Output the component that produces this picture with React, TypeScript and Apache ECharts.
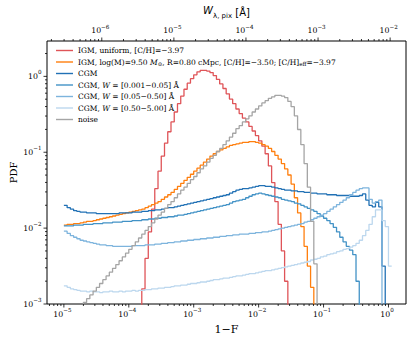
import React, { useEffect, useRef } from 'react';
import * as echarts from 'echarts';

// histogram bin width (dex in 1-F); each series lists log10(PDF) per bin, starting at its first edge
const BIN_DEX = 0.05;

const redName = 'IGM, uniform, [C/H]=−3.97';
const orangeName = 'IGM, log(M)=9.50 M⊙, R=0.80 cMpc, [C/H]=−3.50; [C/H]eff=−3.97';
const cgmName = 'CGM';
const w1Name = 'CGM, W = [0.001−0.05] Å';
const w2Name = 'CGM, W = [0.05−0.50] Å';
const w3Name = 'CGM, W = [0.50−5.00] Å';
const noiseName = 'noise';

const redFirstEdge = -3.8;
const redLogPdf = [-2.80, -2.40, -2.05, -1.75, -1.48, -1.25, -1.05, -0.88, -0.73, -0.60, -0.47, -0.36, -0.26, -0.17, -0.09, -0.03, 0.02, 0.06, 0.08, 0.08, 0.07, 0.05, 0.01, -0.04, -0.10, -0.16, -0.23, -0.30, -0.36, -0.43, -0.49, -0.55, -0.60, -0.66, -0.72, -0.78, -0.85, -0.92, -1.02, -1.18, -1.40, -1.65, -1.95, -2.30, -2.70];

const orangeFirstEdge = -5.0;
const orangeLogPdf = [-1.96, -1.95, -1.95, -1.94, -1.94, -1.93, -1.92, -1.91, -1.91, -1.90,
  -1.89, -1.88, -1.87, -1.86, -1.85, -1.84, -1.83, -1.82, -1.81, -1.80,
  -1.79, -1.78, -1.77, -1.76, -1.75, -1.73, -1.71, -1.69, -1.67, -1.65,
  -1.62, -1.59, -1.56, -1.53, -1.49, -1.45, -1.41, -1.37, -1.33, -1.29,
  -1.25, -1.21, -1.17, -1.13, -1.09, -1.05, -1.02, -0.99, -0.97, -0.95,
  -0.93, -0.91, -0.90, -0.89, -0.88, -0.87, -0.87, -0.86, -0.86, -0.87,
  -0.88, -0.90, -0.92, -0.95, -0.99, -1.04, -1.09, -1.15, -1.22, -1.30,
  -1.42, -1.60, -1.80, -1.98, -2.24, -2.50, -2.78];

const cgmFirstEdge = -5.0;
const cgmLogPdf = [-1.70, -1.73, -1.75, -1.77, -1.78, -1.79, -1.79, -1.80, -1.80, -1.80,
  -1.81, -1.81, -1.81, -1.81, -1.81, -1.81, -1.81, -1.80, -1.80, -1.80,
  -1.80, -1.79, -1.79, -1.79, -1.78, -1.78, -1.77, -1.77, -1.76, -1.76,
  -1.75, -1.74, -1.73, -1.73, -1.72, -1.71, -1.70, -1.69, -1.68, -1.67,
  -1.66, -1.65, -1.64, -1.63, -1.62, -1.61, -1.60, -1.59, -1.58, -1.57,
  -1.56, -1.54, -1.52, -1.50, -1.49, -1.48, -1.48, -1.47, -1.46, -1.45,
  -1.44, -1.44, -1.45, -1.45, -1.46, -1.47, -1.48, -1.49, -1.50, -1.50,
  -1.51, -1.51, -1.52, -1.52, -1.53, -1.53, -1.54, -1.54, -1.55, -1.55,
  -1.55, -1.56, -1.56, -1.56, -1.57, -1.57, -1.57, -1.57, -1.58, -1.58,
  -1.58, -1.57, -1.55, -1.63, -1.70, -1.72, -1.66, -1.72, -2.50];

const w1FirstEdge = -5.0;
const w1LogPdf = [-1.97, -1.97, -1.97, -1.96, -1.96, -1.96, -1.95, -1.95, -1.95, -1.94,
  -1.94, -1.94, -1.93, -1.93, -1.93, -1.92, -1.92, -1.92, -1.91, -1.91,
  -1.91, -1.90, -1.90, -1.90, -1.89, -1.89, -1.88, -1.88, -1.87, -1.87,
  -1.86, -1.86, -1.85, -1.85, -1.84, -1.83, -1.83, -1.82, -1.81, -1.80,
  -1.79, -1.78, -1.77, -1.76, -1.75, -1.74, -1.73, -1.72, -1.71, -1.70,
  -1.69, -1.67, -1.65, -1.64, -1.63, -1.62, -1.60, -1.58, -1.56, -1.55,
  -1.54, -1.55, -1.56, -1.57, -1.58, -1.59, -1.60, -1.62, -1.63, -1.64,
  -1.65, -1.67, -1.68, -1.70, -1.72, -1.74, -1.76, -1.78, -1.81, -1.84,
  -1.87, -1.90, -1.94, -1.99, -2.05, -2.12, -2.18, -2.24, -2.29, -2.35,
  -2.70];

const w2FirstEdge = -5.0;
const w2LogPdf = [-2.04, -2.07, -2.10, -2.12, -2.14, -2.16, -2.17, -2.18, -2.19, -2.20,
  -2.21, -2.22, -2.22, -2.23, -2.23, -2.24, -2.24, -2.24, -2.24, -2.24,
  -2.24, -2.23, -2.23, -2.23, -2.23, -2.22, -2.22, -2.22, -2.21, -2.21,
  -2.20, -2.20, -2.19, -2.19, -2.18, -2.18, -2.17, -2.17, -2.16, -2.16,
  -2.15, -2.15, -2.14, -2.14, -2.13, -2.13, -2.12, -2.12, -2.11, -2.11,
  -2.10, -2.10, -2.09, -2.09, -2.08, -2.08, -2.08, -2.07, -2.07, -2.06,
  -2.06, -2.05, -2.05, -2.04, -2.03, -2.02, -2.01, -2.00, -1.99, -1.98,
  -1.97, -1.96, -1.95, -1.94, -1.92, -1.91, -1.89, -1.87, -1.85, -1.83,
  -1.81, -1.78, -1.75, -1.72, -1.69, -1.66, -1.63, -1.60, -1.56, -1.53,
  -1.50, -1.48, -1.47, -1.47, -1.62, -1.67, -1.65, -1.63];

const w3FirstEdge = -5.0;
const w3LogPdf = [-2.76, -2.78, -2.80, -2.81, -2.82, -2.83, -2.83, -2.84, -2.83, -2.84,
  -2.84, -2.85, -2.84, -2.84, -2.83, -2.84, -2.84, -2.83, -2.84, -2.83,
  -2.83, -2.82, -2.83, -2.82, -2.82, -2.81, -2.81, -2.80, -2.80, -2.79,
  -2.79, -2.78, -2.78, -2.77, -2.76, -2.76, -2.75, -2.75, -2.74, -2.73,
  -2.73, -2.72, -2.71, -2.71, -2.70, -2.69, -2.68, -2.68, -2.67, -2.66,
  -2.66, -2.65, -2.64, -2.63, -2.63, -2.62, -2.61, -2.60, -2.60, -2.59,
  -2.58, -2.57, -2.56, -2.56, -2.55, -2.54, -2.53, -2.52, -2.51, -2.50,
  -2.49, -2.48, -2.47, -2.46, -2.45, -2.44, -2.42, -2.41, -2.40, -2.38,
  -2.37, -2.35, -2.34, -2.33, -2.31, -2.30, -2.28, -2.27, -2.25, -2.23,
  -2.20, -2.16, -2.10, -2.03, -1.95, -1.85, -1.76, -1.76, -1.90, -1.98, -2.50];

const noiseFirstEdge = -4.7;
const noiseLogPdf = [-2.98, -2.93, -2.88, -2.83, -2.78, -2.73, -2.68, -2.63, -2.58, -2.53,
  -2.48, -2.43, -2.38, -2.33, -2.28, -2.23, -2.18, -2.13, -2.08, -2.03,
  -1.98, -1.93, -1.88, -1.83, -1.79, -1.74, -1.69, -1.65, -1.60, -1.55,
  -1.50, -1.46, -1.41, -1.36, -1.32, -1.27, -1.22, -1.18, -1.13, -1.08,
  -1.04, -0.99, -0.95, -0.90, -0.85, -0.80, -0.75, -0.69, -0.65, -0.60,
  -0.56, -0.52, -0.47, -0.43, -0.39, -0.35, -0.32, -0.29, -0.27, -0.25,
  -0.25, -0.26, -0.28, -0.33, -0.40, -0.52, -0.70, -0.90, -1.15, -1.46,
  -1.91, -2.47];

// axis limits (log10)
const xLogMin = -5.26, xLogMax = 0.27;
const topLogMin = -6.76, topLogMax = -1.78;
const yLogMin = -3, yLogMax = 0.466;

const FONT_SERIF = 'DejaVu Serif';
const FONT_SANS = 'DejaVu Sans';
const TICK_BASE_SIZE = 7.8;
const TICK_EXP_SIZE = 5.6;

let measureCtx: CanvasRenderingContext2D | null = null;
function textWidth(t: string, size: number, family: string) {
  if (!measureCtx) measureCtx = document.createElement('canvas').getContext('2d');
  if (!measureCtx) return t.length * size * 0.6;
  measureCtx.font = `${size}px "${family}"`;
  return measureCtx.measureText(t).width;
}

function histData(firstEdge: number, logPdf: number[], dropStart: boolean, dropEnd: boolean) {
  const FLOOR = 1e-7;
  const edge = (i: number) => Math.pow(10, firstEdge + i * BIN_DEX);
  const pts: number[][] = [];
  if (dropStart) pts.push([edge(0), FLOOR]);
  logPdf.forEach((v, i) => pts.push([edge(i), Math.pow(10, v)]));
  const last = logPdf[logPdf.length - 1];
  pts.push([edge(logPdf.length), dropEnd ? FLOOR : Math.pow(10, last)]);
  return pts;
}

function logTicks(lo: number, hi: number) {
  const out: number[][] = [];
  for (let n = Math.floor(lo); n <= Math.ceil(hi); n++) {
    for (let k = 1; k <= 9; k++) {
      const v = k * Math.pow(10, n);
      const l = Math.log10(v);
      if (l >= lo - 1e-9 && l <= hi + 1e-9) out.push([v, k === 1 ? 1 : 0]);
    }
  }
  return out;
}

type Side = 'bottom' | 'top' | 'left';

export default function App() {
  const ref = useRef<HTMLDivElement>(null);
  useEffect(() => {
    if (!ref.current) return;
    const chart = echarts.init(ref.current, undefined, { renderer: 'svg' });
    const lineSeries = (name: string, color: string, data: number[][], z: number) => ({
      name,
      type: 'line',
      step: 'end',
      data,
      symbol: 'none',
      showSymbol: false,
      clip: true,
      z,
      lineStyle: { color, width: 1.3 },
      itemStyle: { color },
      xAxisIndex: 0,
      yAxisIndex: 0,
    });
    const tickSeries = (axis: Side, data: number[][]) => ({
      type: 'custom',
      xAxisIndex: axis === 'top' ? 1 : 0,
      yAxisIndex: 0,
      clip: false,
      silent: true,
      z: 20,
      encode: axis === 'left' ? { x: 2, y: 0 } : { x: 0, y: 2 },
      data: data.map((d) => [d[0], d[1], 0.01]),
      renderItem: (params: any, api: any) => {
        const cs = params.coordSys;
        const v = api.value(0);
        const major = api.value(1) === 1;
        const len = major ? 3.5 : 2;
        const style = { stroke: '#000', lineWidth: 0.8 };
        if (axis === 'left') {
          const py = api.coord([0.01, v])[1];
          return { type: 'line', shape: { x1: cs.x, y1: py, x2: cs.x - len, y2: py }, style };
        }
        const px = api.coord([v, 0.01])[0];
        const y0 = axis === 'bottom' ? cs.y + cs.height : cs.y;
        const y1 = axis === 'bottom' ? y0 + len : y0 - len;
        return { type: 'line', shape: { x1: px, y1: y0, x2: px, y2: y1 }, style };
      },
    });
    const labelSeries = (axis: Side, data: number[][]) => ({
      type: 'custom',
      xAxisIndex: axis === 'top' ? 1 : 0,
      yAxisIndex: 0,
      clip: false,
      silent: true,
      z: 20,
      encode: axis === 'left' ? { x: 2, y: 0 } : { x: 0, y: 2 },
      data: data.filter((d) => d[1] === 1).map((d) => [d[0], 1, 0.01]),
      renderItem: (params: any, api: any) => {
        const cs = params.coordSys;
        const v = api.value(0);
        const e = Math.round(Math.log10(v));
        const base = '10';
        const exp = e < 0 ? '−' + -e : String(e);
        const wb = textWidth(base, TICK_BASE_SIZE, FONT_SERIF);
        const we = textWidth(exp, TICK_EXP_SIZE, FONT_SERIF);
        let x0: number;
        let yMid: number;
        if (axis === 'left') {
          const py = api.coord([0.01, v])[1];
          x0 = cs.x - 5.5 - wb - we;
          yMid = py;
        } else {
          const px = api.coord([v, 0.01])[0];
          x0 = px - (wb + we) / 2 - 1.5;
          yMid = axis === 'bottom' ? cs.y + cs.height + 10 : cs.y - 10.5;
        }
        const font = { fontFamily: FONT_SERIF, fill: '#000', align: 'left', verticalAlign: 'middle' };
        return {
          type: 'group',
          children: [
            { type: 'text', x: x0, y: yMid, style: { ...font, text: base, fontSize: TICK_BASE_SIZE } },
            { type: 'text', x: x0 + wb, y: yMid - 4, style: { ...font, text: exp, fontSize: TICK_EXP_SIZE } },
          ],
        };
      },
    });

    const legendRich: Record<string, string> = {
      [redName]: 'IGM, uniform, [C/H]=−3.97',
      [orangeName]: 'IGM, log(M)=9.50 {i|M}{sub|⊙}, R=0.80 cMpc, [C/H]=−3.50; [C/H]{sub|eff}=−3.97',
      [cgmName]: 'CGM',
      [w1Name]: 'CGM, {i|W} = [0.001−0.05] Å',
      [w2Name]: 'CGM, {i|W} = [0.05−0.50] Å',
      [w3Name]: 'CGM, {i|W} = [0.50−5.00] Å',
      [noiseName]: 'noise',
    };

    const hiddenAxisParts = {
      axisLine: { show: false },
      axisTick: { show: false },
      axisLabel: { show: false },
      splitLine: { show: false },
      minorTick: { show: false },
    };

    const bottomTicks = logTicks(xLogMin, xLogMax);
    const topTicks = logTicks(topLogMin, topLogMax);
    const leftTicks = logTicks(yLogMin, yLogMax);

    chart.setOption({
      animation: false,
      backgroundColor: '#fff',
      grid: { left: 45, right: 9, top: 38, bottom: 34.5, show: true, borderColor: '#000', borderWidth: 1, backgroundColor: 'transparent' },
      legend: {
        data: [redName, orangeName, cgmName, w1Name, w2Name, w3Name, noiseName],
        orient: 'vertical',
        left: 51,
        top: 40.5,
        icon: 'rect',
        itemWidth: 17,
        itemHeight: 1.4,
        itemGap: 1.5,
        selectedMode: false,
        formatter: (name: string) => legendRich[name] || name,
        textStyle: {
          fontFamily: FONT_SERIF,
          fontSize: 7.5,
          color: '#000',
          lineHeight: 10,
          rich: {
            i: { fontFamily: FONT_SERIF, fontStyle: 'italic', fontSize: 7.5, lineHeight: 10, color: '#000' },
            sub: { fontFamily: FONT_SERIF, fontSize: 5.5, lineHeight: 6, verticalAlign: 'bottom', color: '#000' },
          },
        },
      },
      xAxis: [
        {
          type: 'log',
          logBase: 10,
          min: Math.pow(10, xLogMin),
          max: Math.pow(10, xLogMax),
          position: 'bottom',
          ...hiddenAxisParts,
          name: '1−F',
          nameLocation: 'middle',
          nameGap: 20,
          nameTextStyle: { fontFamily: FONT_SERIF, fontSize: 11, color: '#000' },
        },
        {
          type: 'log',
          logBase: 10,
          min: Math.pow(10, topLogMin),
          max: Math.pow(10, topLogMax),
          position: 'top',
          ...hiddenAxisParts,
          name: '{w|W}{sub|λ, pix} [Å]',
          nameLocation: 'middle',
          nameGap: 22,
          nameTextStyle: {
            fontFamily: FONT_SANS,
            fontSize: 10,
            color: '#000',
            rich: {
              w: { fontFamily: FONT_SANS, fontStyle: 'italic', fontSize: 10, lineHeight: 14, verticalAlign: 'top', color: '#000' },
              sub: { fontFamily: FONT_SANS, fontSize: 7, lineHeight: 8, verticalAlign: 'bottom', color: '#000' },
            },
          },
        },
      ],
      yAxis: [
        {
          type: 'log',
          logBase: 10,
          min: Math.pow(10, yLogMin),
          max: Math.pow(10, yLogMax),
          ...hiddenAxisParts,
          name: 'PDF',
          nameLocation: 'middle',
          nameRotate: 90,
          nameGap: 29,
          nameTextStyle: { fontFamily: FONT_SERIF, fontSize: 10, color: '#000' },
        },
      ],
      series: [
        lineSeries(redName, '#df5458', histData(redFirstEdge, redLogPdf, true, true), 2),
        lineSeries(orangeName, '#ff7f0e', histData(orangeFirstEdge, orangeLogPdf, false, true), 3),
        lineSeries(cgmName, '#2171b5', histData(cgmFirstEdge, cgmLogPdf, false, true), 4),
        lineSeries(w1Name, '#4292c6', histData(w1FirstEdge, w1LogPdf, false, true), 5),
        lineSeries(w2Name, '#7db4dd', histData(w2FirstEdge, w2LogPdf, false, true), 6),
        lineSeries(w3Name, '#bcd7ee', histData(w3FirstEdge, w3LogPdf, false, false), 7),
        lineSeries(noiseName, '#a5a5a5', histData(noiseFirstEdge, noiseLogPdf, true, true), 8),
        tickSeries('bottom', bottomTicks),
        tickSeries('top', topTicks),
        tickSeries('left', leftTicks),
        labelSeries('bottom', bottomTicks),
        labelSeries('top', topTicks),
        labelSeries('left', leftTicks),
      ],
    });
    return () => chart.dispose();
  }, []);
  return <div ref={ref} style={{ position: 'absolute', left: 0, top: 0, width: 415, height: 340 }} />;
}
